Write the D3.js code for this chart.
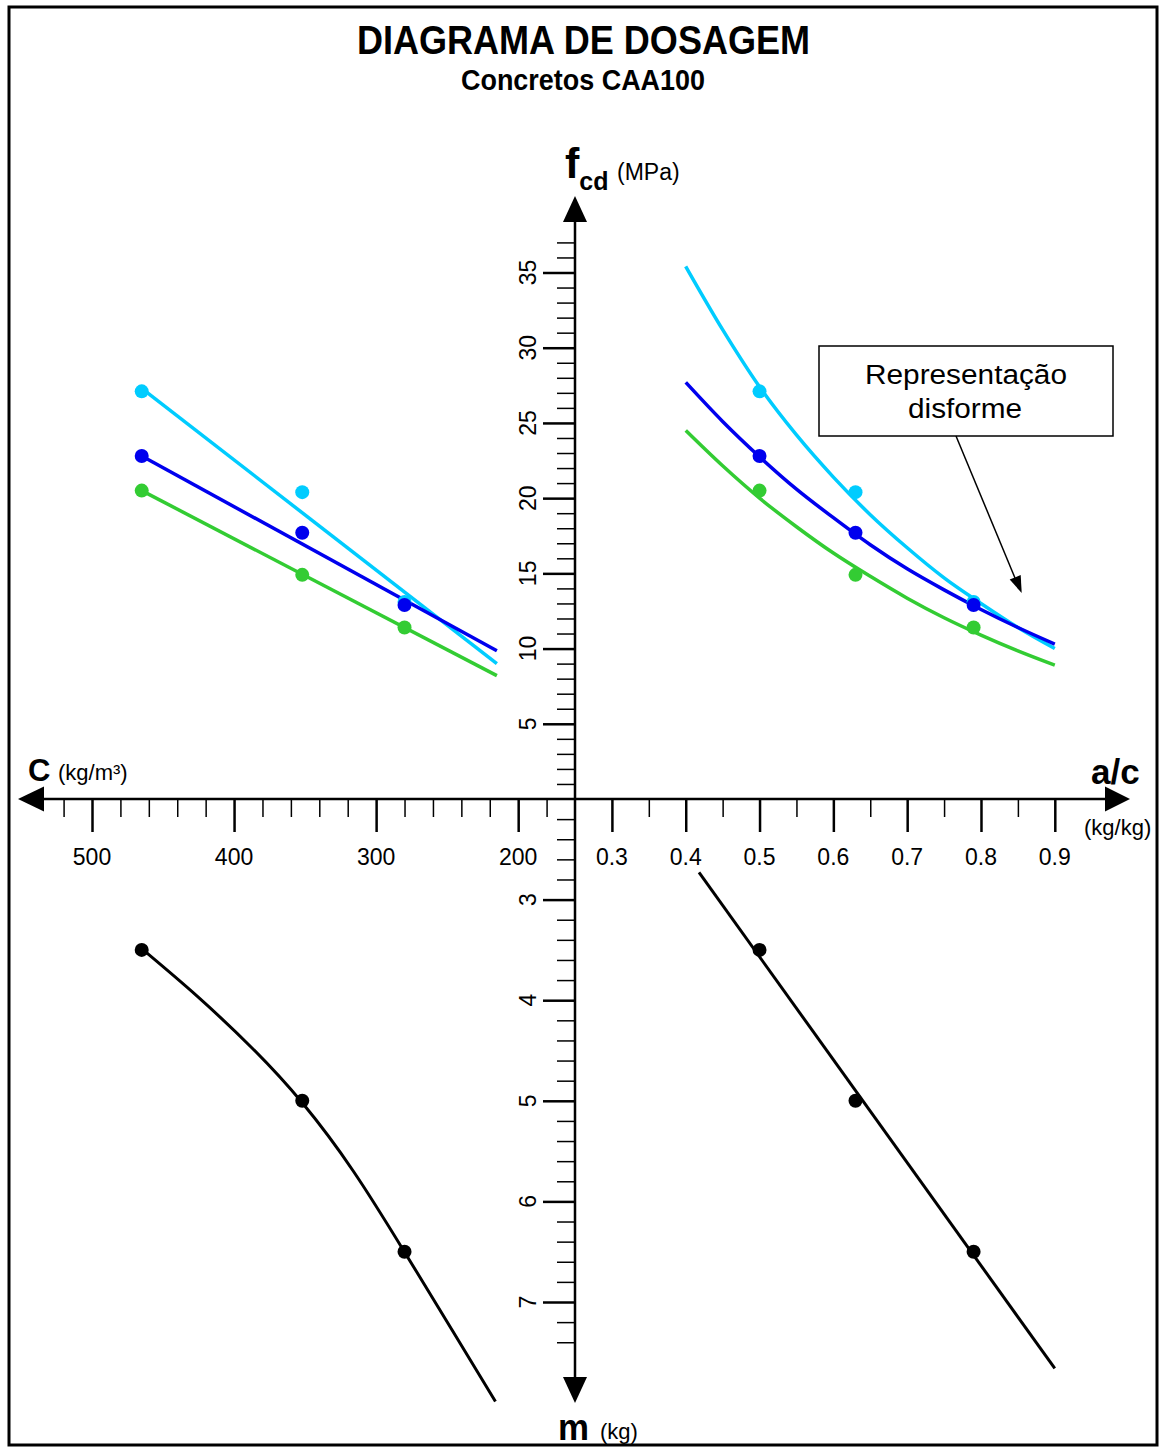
<!DOCTYPE html>
<html><head><meta charset="utf-8">
<script src="https://cdn.jsdelivr.net/npm/d3@7"></script>
<style>
html,body{margin:0;padding:0;background:#fff;}
svg{display:block;font-family:"Liberation Sans",Arial,sans-serif;}
</style></head><body>
<svg id="chart" width="1160" height="1448"></svg>
<script>
// ---------------- data ----------------
const acSamples = [0.50, 0.63, 0.79];          // a/c of the three mixes
const cSamples  = [465, 352, 280];             // cement consumption (kg/m3)
const mSamples  = [3.5, 5.0, 6.5];             // m (kg)
const fcdCyan  = [27.1, 20.4, 13.1];
const fcdBlue  = [22.8, 17.7, 12.9];
const fcdGreen = [20.5, 14.9, 11.4];

const acCurveX     = [0.40,0.45,0.50,0.55,0.60,0.65,0.70,0.75,0.80,0.85,0.90];
const acCurveCyan  = [35.4,31.2,27.4,24.2,21.4,18.9,16.7,14.7,13.0,11.4,10.0];
const acCurveBlue  = [27.7,25.1,22.75,20.6,18.7,16.9,15.3,13.9,12.6,11.4,10.3];
const acCurveGreen = [24.5,22.15,20.0,18.1,16.35,14.8,13.35,12.05,10.9,9.85,8.9];

const cLineX     = [465, 215];
const cLineCyan  = [27.3, 9.0];
const cLineBlue  = [22.8, 9.85];
const cLineGreen = [20.5, 8.2];

const mCurveC = [464, 426, 387, 352, 316, 281, 246, 216];
const mCurveM = [3.50, 3.96, 4.48, 5.02, 5.70, 6.48, 7.29, 7.99];
const mLineAC = [0.418, 0.90];
const mLineM  = [2.73, 7.66];

const fcdTicks = [5,10,15,20,25,30,35];
const mTicks   = [3,4,5,6,7];
const cTicks   = [500,400,300,200];
const acTicks  = [0.3,0.4,0.5,0.6,0.7,0.8,0.9];
const acLabels = ["0.3","0.4","0.5","0.6","0.7","0.8","0.9"];

const colCyan = "#00ccff", colBlue = "#0000ee", colGreen = "#33cc33";

// ---------------- scales ----------------
const svg = d3.select("#chart");
const X0 = 575, Y0 = 799;
const xAC = d3.scaleLinear().domain([0.25, 0.9]).range([X0, 1054.8]);
const xC  = d3.scaleLinear().domain([160, 500]).range([X0, 92]);
const yF  = d3.scaleLinear().domain([0, 35]).range([Y0, 272.5]);
const yM  = d3.scaleLinear().domain([2, 7]).range([Y0, 1302]);

// border
svg.append("rect").attr("x",9).attr("y",7).attr("width",1148).attr("height",1438)
  .attr("fill","none").attr("stroke","#000").attr("stroke-width",3);

// title
svg.append("text").attr("x",583.5).attr("y",54).attr("text-anchor","middle")
  .attr("font-size",40).attr("font-weight","bold").attr("textLength",453)
  .attr("lengthAdjust","spacingAndGlyphs").text("DIAGRAMA DE DOSAGEM");
svg.append("text").attr("x",583).attr("y",90).attr("text-anchor","middle")
  .attr("font-size",29).attr("font-weight","bold").attr("textLength",244)
  .attr("lengthAdjust","spacingAndGlyphs").text("Concretos CAA100");

// ---------------- ticks via d3 axes ----------------
function tickAxis(axisFn, scale, values, size, sw, transform){
  const g = svg.append("g").attr("transform", transform)
    .call(axisFn(scale).tickValues(values).tickSize(size).tickFormat(""));
  g.select(".domain").remove();
  g.selectAll(".tick line").attr("stroke","#000").attr("stroke-width",sw);
  return g;
}
const fMinor = d3.range(1,38).filter(v => v % 5 !== 0);
const mMinor = d3.range(11,38).map(v => v/5).filter(v => Math.abs(v-Math.round(v))>1e-6);
const cMinor = d3.range(180,521,20).filter(v => v % 100 !== 0);
const acMinor = [0.35,0.45,0.55,0.65,0.75,0.85];

tickAxis(d3.axisLeft, yF, fMinor, 18, 1.5, `translate(${X0},0)`);
tickAxis(d3.axisLeft, yF, fcdTicks, 32, 2.5, `translate(${X0},0)`);
tickAxis(d3.axisLeft, yM, mMinor, 18, 1.5, `translate(${X0},0)`);
tickAxis(d3.axisLeft, yM, mTicks, 32, 2.5, `translate(${X0},0)`);
tickAxis(d3.axisBottom, xC, cMinor, 18, 1.5, `translate(0,${Y0})`);
tickAxis(d3.axisBottom, xC, cTicks, 33, 2.5, `translate(0,${Y0})`);
tickAxis(d3.axisBottom, xAC, acMinor, 18, 1.5, `translate(0,${Y0})`);
tickAxis(d3.axisBottom, xAC, acTicks, 33, 2.5, `translate(0,${Y0})`);

// axis lines + arrows
svg.append("line").attr("x1",44).attr("x2",1106).attr("y1",Y0).attr("y2",Y0)
  .attr("stroke","#000").attr("stroke-width",2.5);
svg.append("line").attr("x1",X0).attr("x2",X0).attr("y1",221).attr("y2",1378)
  .attr("stroke","#000").attr("stroke-width",2.5);
const arrows = [
  [[18,Y0],[44,Y0-12.5],[44,Y0+12.5]],
  [[1130,Y0],[1105,Y0-12.5],[1105,Y0+12.5]],
  [[X0,196],[X0-12,222],[X0+12,222]],
  [[X0,1403],[X0-12,1377],[X0+12,1377]]
];
svg.selectAll("polygon.ax").data(arrows).enter().append("polygon").attr("class","ax")
  .attr("points", d => d.map(p => p.join(",")).join(" ")).attr("fill","#000");

// tick labels
svg.selectAll("text.cl").data(cTicks).enter().append("text").attr("class","cl")
  .attr("x", d => xC(d)).attr("y",865).attr("text-anchor","middle").attr("font-size",23)
  .text(d => d);
svg.selectAll("text.acl").data(acTicks).enter().append("text").attr("class","acl")
  .attr("x", d => xAC(d)).attr("y",865).attr("text-anchor","middle").attr("font-size",23)
  .text((d,i) => acLabels[i]);
svg.selectAll("text.fl").data(fcdTicks).enter().append("text").attr("class","fl")
  .attr("transform", d => `translate(536,${yF(d)}) rotate(-90)`)
  .attr("text-anchor","middle").attr("font-size",23).text(d => d);
svg.selectAll("text.ml").data(mTicks).enter().append("text").attr("class","ml")
  .attr("transform", d => `translate(536,${yM(d)}) rotate(-90)`)
  .attr("text-anchor","middle").attr("font-size",23).text(d => d);

// axis titles
const ft = svg.append("text").attr("x",565).attr("y",178).attr("font-weight","bold");
ft.append("tspan").attr("font-size",43).text("f");
ft.append("tspan").attr("font-size",25).attr("dy",12).text("cd");
svg.append("text").attr("x",617).attr("y",180).attr("font-size",23).text("(MPa)");

svg.append("text").attr("x",28).attr("y",781).attr("font-size",31).attr("font-weight","bold").text("C");
svg.append("text").attr("x",58).attr("y",780).attr("font-size",22).text("(kg/m³)");

svg.append("text").attr("x",1091).attr("y",784).attr("font-size",35).attr("font-weight","bold").text("a/c");
svg.append("text").attr("x",1084).attr("y",835).attr("font-size",22).text("(kg/kg)");

svg.append("text").attr("x",558).attr("y",1440).attr("font-size",36).attr("font-weight","bold")
  .attr("textLength",31).attr("lengthAdjust","spacingAndGlyphs").text("m");
svg.append("text").attr("x",600).attr("y",1439).attr("font-size",22).text("(kg)");

// ---------------- curves ----------------
const lineAC = d3.line().x(d => xAC(d[0])).y(d => yF(d[1])).curve(d3.curveMonotoneX);
const lineC  = d3.line().x(d => xC(d[0])).y(d => yF(d[1]));
const series = [
  {col: colCyan,  curve: acCurveCyan,  cl: cLineCyan,  pts: fcdCyan},
  {col: colGreen, curve: acCurveGreen, cl: cLineGreen, pts: fcdGreen},
  {col: colBlue,  curve: acCurveBlue,  cl: cLineBlue,  pts: fcdBlue}
];
series.forEach(s => {
  svg.append("path").datum(acCurveX.map((x,i) => [x, s.curve[i]]))
    .attr("d", lineAC).attr("fill","none").attr("stroke", s.col).attr("stroke-width",3.5);
  svg.append("path").datum(cLineX.map((x,i) => [x, s.cl[i]]))
    .attr("d", lineC).attr("fill","none").attr("stroke", s.col).attr("stroke-width",3.5);
});
// dots: cyan first, then green, then blue
[ {col: colCyan, pts: fcdCyan}, {col: colGreen, pts: fcdGreen}, {col: colBlue, pts: fcdBlue} ].forEach(s => {
  svg.append("g").selectAll("circle").data(s.pts).enter().append("circle")
    .attr("cx", (d,i) => xAC(acSamples[i])).attr("cy", d => yF(d)).attr("r",7).attr("fill", s.col);
  svg.append("g").selectAll("circle").data(s.pts).enter().append("circle")
    .attr("cx", (d,i) => xC(cSamples[i])).attr("cy", d => yF(d)).attr("r",7).attr("fill", s.col);
});

// m quadrants
const lineMC = d3.line().x(d => xC(d[0])).y(d => yM(d[1])).curve(d3.curveNatural);
svg.append("path").datum(mCurveC.map((c,i) => [c, mCurveM[i]]))
  .attr("d", lineMC).attr("fill","none").attr("stroke","#000").attr("stroke-width",3);
const lineMA = d3.line().x(d => xAC(d[0])).y(d => yM(d[1]));
svg.append("path").datum(mLineAC.map((a,i) => [a, mLineM[i]]))
  .attr("d", lineMA).attr("fill","none").attr("stroke","#000").attr("stroke-width",3);
svg.append("g").selectAll("circle").data(mSamples).enter().append("circle")
  .attr("cx", (d,i) => xC(cSamples[i])).attr("cy", d => yM(d)).attr("r",7).attr("fill","#000");
svg.append("g").selectAll("circle").data(mSamples).enter().append("circle")
  .attr("cx", (d,i) => xAC(acSamples[i])).attr("cy", d => yM(d)).attr("r",7).attr("fill","#000");

// ---------------- annotation ----------------
svg.append("rect").attr("x",819).attr("y",346).attr("width",294).attr("height",90)
  .attr("fill","#fff").attr("stroke","#000").attr("stroke-width",1.5);
svg.append("text").attr("x",966).attr("y",384).attr("text-anchor","middle").attr("font-size",27)
  .attr("textLength",202).attr("lengthAdjust","spacingAndGlyphs").text("Representação");
svg.append("text").attr("x",965).attr("y",418).attr("text-anchor","middle").attr("font-size",27)
  .attr("textLength",114).attr("lengthAdjust","spacingAndGlyphs").text("disforme");
svg.append("line").attr("x1",956).attr("y1",436).attr("x2",1015).attr("y2",578)
  .attr("stroke","#000").attr("stroke-width",1.5);
svg.append("polygon").attr("points","1021.7,593 1009.7,579.6 1020.7,575").attr("fill","#000");
</script>
</body></html>
